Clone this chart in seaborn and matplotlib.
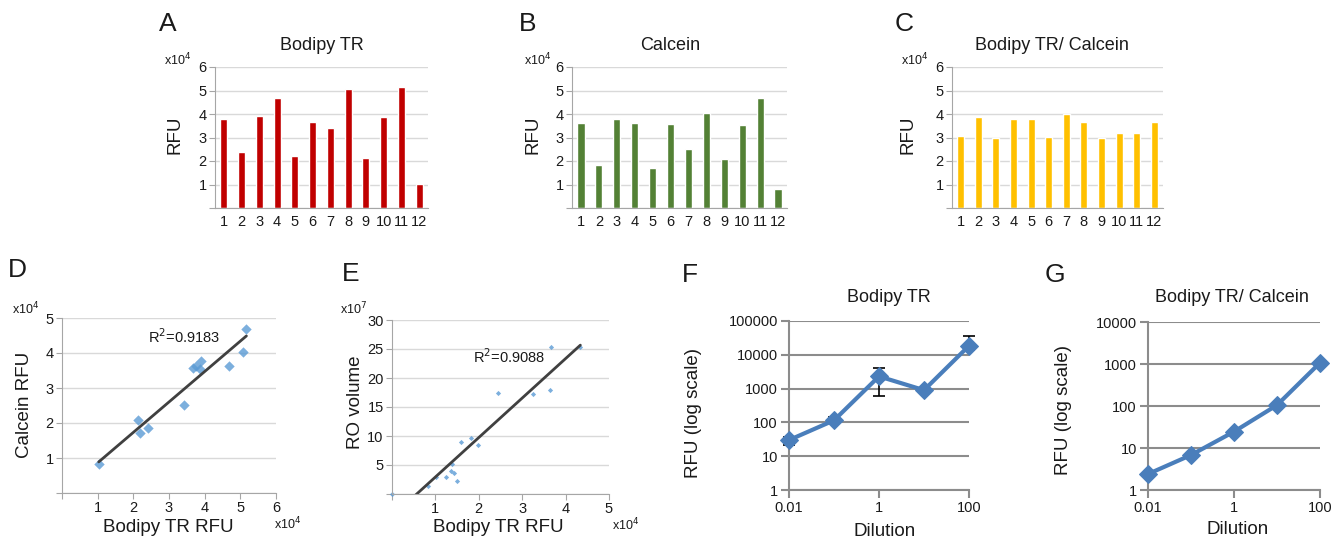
import numpy as np
import pandas as pd
import matplotlib
matplotlib.use('Agg')
import matplotlib.pyplot as plt
import seaborn as sns

# A-C: RFU per sample, in units of 1e4
samples = [str(i) for i in range(1, 13)]
bodipy = [3.77, 2.40, 3.90, 4.68, 2.20, 3.66, 3.42, 5.08, 2.12, 3.87, 5.17, 1.03]
calcein = [3.63, 1.85, 3.77, 3.63, 1.71, 3.56, 2.51, 4.03, 2.08, 3.53, 4.70, 0.82]
ratio = [3.06, 3.86, 2.99, 3.77, 3.80, 3.04, 3.98, 3.67, 2.98, 3.19, 3.19, 3.64]

# E: Bodipy TR RFU (x1e4) vs RO volume (x1e7)
ro_bodipy = [0.0, 0.84, 1.01, 1.24, 1.38, 1.37, 1.42, 1.50, 1.58, 1.82, 1.98,
             2.45, 3.25, 3.65, 3.66, 4.34]
ro_volume = [0.0, 1.3, 3.0, 2.9, 5.1, 3.9, 3.6, 2.2, 8.9, 9.6, 8.4,
             17.5, 17.3, 17.9, 25.3, 25.4]

# F, G: dilution series
dilution = [0.01, 0.1, 1, 10, 100]
f_rfu = [30, 115, 2300, 900, 18500]
f_err_lo = [9, 15, 1700, 120, 5000]
f_err_hi = [8, 25, 1900, 120, 17500]
g_rfu = [2.4, 6.8, 24.5, 105, 1070]

W, H = 1342, 542
sns.set_style('white')
plt.rcParams['font.family'] = ['Liberation Sans', 'DejaVu Sans']

fig = plt.figure(figsize=(W / 100, H / 100), dpi=100)
TXT = '#1a1a1a'


def add_ax(l, t, r, b):
    return fig.add_axes([l / W, 1 - b / H, (r - l) / W, (b - t) / H])


def ftext(x, y, s, size=10, **kw):
    fig.text(x / W, 1 - y / H, s, fontsize=size, color=TXT, **kw)


def excel_style(ax, grid='#D9D9D9', spine='#A6A6A6', glw=1.0):
    sns.despine(ax=ax)
    for s in ['left', 'bottom']:
        ax.spines[s].set_color(spine)
    ax.yaxis.grid(True, color=grid, lw=glw)
    ax.xaxis.grid(False)
    ax.set_axisbelow(True)
    ax.tick_params(bottom=True, left=True, direction='out', color=spine,
                   length=4, labelsize=10.5, labelcolor=TXT, pad=2)
    ax.set_xlabel('')
    ax.set_ylabel('')


def bar_panel(box, values, color, letter, lpos, title, tpos, ylab, xpos):
    ax = add_ax(*box)
    df = pd.DataFrame({'sample': samples, 'rfu': values})
    sns.barplot(data=df, x='sample', y='rfu', color=color, saturation=1,
                width=0.4, ax=ax)
    excel_style(ax)
    ax.set_xlim(-0.5, 11.5)
    ax.set_ylim(0, 6)
    ax.set_yticks(range(7))
    ax.set_yticklabels([''] + [str(i) for i in range(1, 7)])
    ax.set_xticks(np.arange(-0.5, 12, 1), minor=True)
    ax.tick_params(axis='x', which='major', length=0, pad=5)
    ax.tick_params(axis='x', which='minor', length=4, color='#A6A6A6')
    ftext(*lpos, letter, size=19, ha='center', va='center')
    ftext(*tpos, title, size=13, ha='center', va='center')
    ftext(*ylab, 'RFU', size=13.5, ha='center', va='center', rotation=90)
    ftext(*xpos, r'x10$^4$', size=9, ha='left', va='center')
    return ax


bar_panel((215, 67, 428, 208), bodipy, '#C00000', 'A', (168, 24),
          'Bodipy TR', (322, 45), (175, 135), (164, 60))
bar_panel((572, 67, 787, 208), calcein, '#538135', 'B', (528, 24),
          'Calcein', (670, 45), (533, 135), (524, 60))
bar_panel((952, 67, 1163, 208), ratio, '#FFC000', 'C', (904, 24),
          'Bodipy TR/ Calcein', (1052, 45), (908, 135), (901, 60))

# D: Calcein vs Bodipy TR
ax = add_ax(62, 318, 276, 493)
sns.regplot(x=bodipy, y=calcein, ci=None, marker='D', ax=ax,
            scatter_kws=dict(s=28, color='#5B9BD5', linewidths=0),
            line_kws=dict(color='#404040', lw=2))
excel_style(ax)
ax.set_xlim(0, 6)
ax.set_ylim(0, 5)
ax.set_xticks(range(7))
ax.set_xticklabels([''] + [str(i) for i in range(1, 7)])
ax.set_yticks(range(6))
ax.set_yticklabels([''] + [str(i) for i in range(1, 6)])
ftext(17, 270, 'D', size=19, ha='center', va='center')
ftext(25, 405, 'Calcein RFU', size=13.5, ha='center', va='center', rotation=90)
ftext(168, 527, 'Bodipy TR RFU', size=13.5, ha='center', va='center')
ftext(12, 309, r'x10$^4$', size=9, ha='left', va='center')
ftext(274, 524, r'x10$^4$', size=9, ha='left', va='center')
ftext(148, 337, r'R$^2$=0.9183', size=10.5, ha='left', va='center')

# E: RO volume vs Bodipy TR
ax = add_ax(392, 320, 609, 494)
sns.regplot(x=ro_bodipy, y=ro_volume, ci=None, marker='D', ax=ax,
            scatter_kws=dict(s=7, color='#5B9BD5', linewidths=0, clip_on=False),
            line_kws=dict(color='#404040', lw=2))
excel_style(ax)
ax.set_xlim(0, 5)
ax.set_ylim(0, 30)
ax.set_xticks(range(6))
ax.set_xticklabels([''] + [str(i) for i in range(1, 6)])
ax.set_yticks(range(0, 31, 5))
ax.set_yticklabels([''] + [str(i) for i in range(5, 31, 5)])
ftext(351, 274, 'E', size=19, ha='center', va='center')
ftext(355, 402, 'RO volume', size=13.5, ha='center', va='center', rotation=90)
ftext(498, 527, 'Bodipy TR RFU', size=13.5, ha='center', va='center')
ftext(340, 309, r'x10$^7$', size=9, ha='left', va='center')
ftext(612, 525, r'x10$^4$', size=9, ha='left', va='center')
ftext(473, 357, r'R$^2$=0.9088', size=10.5, ha='left', va='center')


def log_panel(box, y, ymax, letter, lpos, title, tpos, ylpos, xlpos, err=None):
    ax = add_ax(*box)
    if err is not None:
        ax.errorbar(dilution, y, yerr=err, fmt='none', ecolor='black',
                    capsize=4, elinewidth=1.2, capthick=1.2, zorder=1,
                    clip_on=False)
    sns.lineplot(x=dilution, y=y, marker='D', markersize=9, lw=3,
                 color='#4A7EBB', markeredgecolor='#4A7EBB', ax=ax, zorder=3)
    for ln in ax.lines:
        ln.set_clip_on(False)
    ax.set_xscale('log')
    ax.set_yscale('log')
    excel_style(ax, grid='#8C8C8C', spine='#8C8C8C', glw=1.5)
    for s in ['left', 'bottom']:
        ax.spines[s].set_linewidth(1.5)
    ax.set_xlim(0.01, 100)
    ax.set_ylim(1, ymax)
    yt = [10 ** k for k in range(int(round(np.log10(ymax))) + 1)]
    ax.set_yticks(yt)
    ax.set_yticklabels([str(v) for v in yt])
    ax.set_xticks([0.01, 1, 100])
    ax.set_xticklabels(['0.01', '1', '100'])
    ax.minorticks_off()
    ax.tick_params(length=6, width=1.5)
    ftext(*lpos, letter, size=19, ha='center', va='center')
    ftext(*tpos, title, size=13, ha='center', va='center')
    ftext(*ylpos, 'RFU (log scale)', size=13.5, ha='center', va='center',
          rotation=90)
    ftext(*xlpos, 'Dilution', size=13.5, ha='center', va='center')
    return ax


log_panel((789, 321, 969, 490), f_rfu, 100000, 'F', (690, 275), 'Bodipy TR',
          (889, 297), (693, 413), (885, 532), err=[f_err_lo, f_err_hi])
log_panel((1148, 322, 1320, 490), g_rfu, 10000, 'G', (1055, 275),
          'Bodipy TR/ Calcein', (1232, 297), (1063, 410), (1238, 530))

fig.savefig('out.png', dpi=100)
